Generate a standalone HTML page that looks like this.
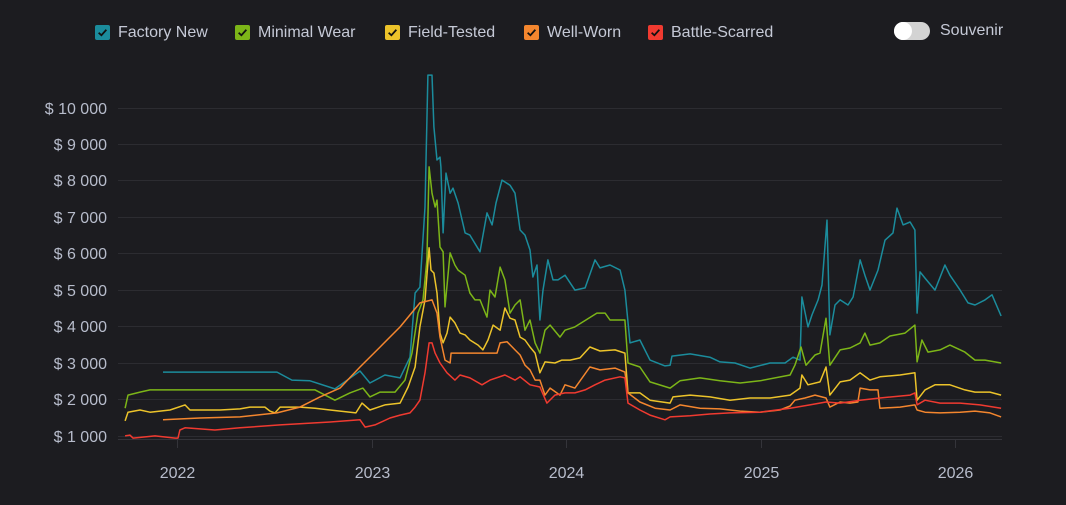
<!DOCTYPE html>
<html><head><meta charset="utf-8">
<style>
html,body{margin:0;padding:0;background:#1c1c20;width:1066px;height:505px;overflow:hidden;font-family:"Liberation Sans",Arial,sans-serif;}
#legend{position:absolute;left:0;top:0;width:1066px;height:60px;}
.lg{position:absolute;top:23px;height:19px;display:flex;align-items:center;color:#c5c9d6;font-size:16px;cursor:pointer;}
.cb{width:15px;height:15px;border-radius:2px;margin-right:8px;display:flex;align-items:center;justify-content:center;}
.cb svg{width:11px;height:11px}
#toggle{position:absolute;left:894px;top:22px;width:36px;height:18px;border-radius:9px;background:#d3d3d3;cursor:pointer;}
#toggle .knob{position:absolute;left:0;top:0;width:18px;height:18px;border-radius:9px;background:#fff;}
#souv{position:absolute;left:940px;top:22px;color:#c5c9d6;font-size:16px;}
svg#chart{position:absolute;left:0;top:0;}
</style></head>
<body>
<div id="legend">
  <div class="lg" style="left:95px"><div class="cb" style="background:#1b8c9c"><svg viewBox="0 0 10 10"><path d="M1.5 5.2 L4 7.5 L8.5 2.5" stroke="#111" stroke-width="1.6" fill="none"/></svg></div>Factory New</div>
  <div class="lg" style="left:235px"><div class="cb" style="background:#7cb518"><svg viewBox="0 0 10 10"><path d="M1.5 5.2 L4 7.5 L8.5 2.5" stroke="#111" stroke-width="1.6" fill="none"/></svg></div>Minimal Wear</div>
  <div class="lg" style="left:385px"><div class="cb" style="background:#ecc32a"><svg viewBox="0 0 10 10"><path d="M1.5 5.2 L4 7.5 L8.5 2.5" stroke="#111" stroke-width="1.6" fill="none"/></svg></div>Field-Tested</div>
  <div class="lg" style="left:524px"><div class="cb" style="background:#f4862e"><svg viewBox="0 0 10 10"><path d="M1.5 5.2 L4 7.5 L8.5 2.5" stroke="#111" stroke-width="1.6" fill="none"/></svg></div>Well-Worn</div>
  <div class="lg" style="left:648px"><div class="cb" style="background:#f03a30"><svg viewBox="0 0 10 10"><path d="M1.5 5.2 L4 7.5 L8.5 2.5" stroke="#111" stroke-width="1.6" fill="none"/></svg></div>Battle-Scarred</div>
  <div id="toggle"><div class="knob"></div></div>
  <div id="souv">Souvenir</div>
</div>
<svg id="chart" width="1066" height="505"></svg>
<script>
const yTicks = [1000,2000,3000,4000,5000,6000,7000,8000,9000,10000];
const yTickLabels = ["$ 1 000","$ 2 000","$ 3 000","$ 4 000","$ 5 000","$ 6 000","$ 7 000","$ 8 000","$ 9 000","$ 10 000"];
const xTicks = [2022,2023,2024,2025,2026];
const xTickLabels = ["2022","2023","2024","2025","2026"];
const seriesNames = ["Factory New","Minimal Wear","Field-Tested","Well-Worn","Battle-Scarred"];

const factoryNew = [[2021.928,2740],[2022.514,2740],[2022.591,2520],[2022.684,2500],[2022.812,2280],[2022.941,2770],[2022.992,2440],[2023.069,2660],[2023.147,2580],[2023.198,3150],[2023.224,4910],[2023.249,5070],[2023.275,7270],[2023.290,10890],[2023.311,10890],[2023.321,9470],[2023.337,8560],[2023.352,8640],[2023.357,8370],[2023.368,6560],[2023.383,8200],[2023.404,7650],[2023.419,7790],[2023.445,7380],[2023.481,6560],[2023.506,6500],[2023.558,6040],[2023.594,7110],[2023.620,6780],[2023.640,7380],[2023.671,8010],[2023.712,7870],[2023.738,7650],[2023.764,6640],[2023.789,6500],[2023.815,6090],[2023.830,5350],[2023.851,5680],[2023.866,4170],[2023.882,4990],[2023.907,5820],[2023.933,5270],[2023.959,5270],[2023.995,5400],[2024.046,4990],[2024.098,5050],[2024.149,5820],[2024.175,5600],[2024.226,5680],[2024.278,5540],[2024.303,4990],[2024.329,3540],[2024.380,3620],[2024.432,3070],[2024.509,2910],[2024.535,2930],[2024.545,3180],[2024.638,3240],[2024.740,3150],[2024.792,3020],[2024.869,2990],[2024.946,2850],[2025.049,2990],[2025.126,2990],[2025.167,3150],[2025.203,3070],[2025.213,4800],[2025.244,3980],[2025.265,4310],[2025.296,4720],[2025.316,5130],[2025.342,6910],[2025.357,3760],[2025.383,4580],[2025.409,4720],[2025.450,4580],[2025.476,4800],[2025.512,5820],[2025.537,5400],[2025.563,4990],[2025.604,5540],[2025.640,6360],[2025.681,6560],[2025.702,7240],[2025.733,6780],[2025.769,6860],[2025.794,6640],[2025.805,4360],[2025.820,5490],[2025.846,5320],[2025.897,4990],[2025.948,5680],[2025.974,5400],[2026.026,4990],[2026.067,4640],[2026.103,4580],[2026.154,4720],[2026.190,4860],[2026.237,4280]];

const minimalWear = [[2021.733,1750],[2021.748,2110],[2021.810,2190],[2021.861,2250],[2021.928,2250],[2022.710,2250],[2022.812,1970],[2022.889,2170],[2022.956,2300],[2022.992,2060],[2023.044,2190],[2023.121,2190],[2023.172,2520],[2023.208,3260],[2023.239,4360],[2023.265,4720],[2023.285,5820],[2023.296,8370],[2023.311,7650],[2023.327,7270],[2023.337,7460],[2023.352,6170],[2023.368,6040],[2023.378,4530],[2023.404,6010],[2023.429,5680],[2023.445,5540],[2023.481,5400],[2023.506,4910],[2023.532,4720],[2023.558,4720],[2023.594,4250],[2023.609,4990],[2023.635,4800],[2023.661,5620],[2023.686,5270],[2023.712,4360],[2023.738,4580],[2023.764,4720],[2023.789,3890],[2023.815,4170],[2023.841,3540],[2023.866,3260],[2023.892,3890],[2023.918,4030],[2023.969,3700],[2023.995,3890],[2024.046,3980],[2024.159,4360],[2024.201,4360],[2024.226,4170],[2024.288,4170],[2024.303,4170],[2024.319,2990],[2024.380,2880],[2024.432,2470],[2024.535,2300],[2024.586,2500],[2024.689,2580],[2024.792,2500],[2024.895,2440],[2024.997,2500],[2025.152,2660],[2025.177,2930],[2025.208,3430],[2025.234,2930],[2025.280,3210],[2025.306,3260],[2025.337,4220],[2025.357,2930],[2025.409,3350],[2025.460,3400],[2025.512,3540],[2025.537,3810],[2025.563,3480],[2025.614,3540],[2025.666,3730],[2025.743,3810],[2025.794,4030],[2025.805,3020],[2025.830,3620],[2025.861,3290],[2025.923,3350],[2025.974,3480],[2026.051,3290],[2026.103,3070],[2026.154,3070],[2026.237,2990]];

const fieldTested = [[2021.733,1400],[2021.748,1640],[2021.810,1700],[2021.861,1640],[2021.964,1700],[2022.041,1840],[2022.067,1700],[2022.221,1700],[2022.324,1730],[2022.375,1780],[2022.452,1780],[2022.478,1670],[2022.504,1620],[2022.530,1780],[2022.632,1780],[2022.710,1750],[2022.787,1700],[2022.920,1620],[2022.951,1890],[2022.992,1700],[2023.069,1840],[2023.147,1890],[2023.188,2330],[2023.224,2880],[2023.249,3980],[2023.275,4720],[2023.296,6150],[2023.306,5540],[2023.321,5460],[2023.337,4910],[2023.352,3810],[2023.368,3540],[2023.388,3810],[2023.404,4250],[2023.429,4090],[2023.455,3810],[2023.481,3760],[2023.506,3620],[2023.548,3480],[2023.573,3350],[2023.599,3620],[2023.625,4030],[2023.661,3890],[2023.686,4500],[2023.712,4220],[2023.738,4170],[2023.764,3700],[2023.789,3620],[2023.815,3430],[2023.841,3260],[2023.866,2720],[2023.892,3020],[2023.943,2990],[2023.979,3070],[2024.021,3070],[2024.072,3130],[2024.123,3430],[2024.175,3320],[2024.252,3350],[2024.303,3260],[2024.319,2170],[2024.380,2170],[2024.432,1970],[2024.535,1890],[2024.550,2060],[2024.638,2110],[2024.740,2060],[2024.843,1970],[2024.946,2030],[2025.049,2030],[2025.152,2110],[2025.203,2300],[2025.213,2660],[2025.244,2390],[2025.306,2470],[2025.337,2880],[2025.357,2110],[2025.409,2470],[2025.460,2520],[2025.512,2720],[2025.563,2520],[2025.614,2610],[2025.717,2660],[2025.794,2720],[2025.805,1970],[2025.846,2250],[2025.897,2390],[2025.974,2390],[2026.051,2250],[2026.103,2190],[2026.180,2190],[2026.237,2110]];

const wellWorn = [[2021.928,1430],[2022.118,1480],[2022.324,1510],[2022.514,1620],[2022.632,1780],[2022.735,2060],[2022.838,2300],[2022.941,2880],[2023.044,3430],[2023.147,3980],[2023.249,4640],[2023.311,4720],[2023.337,4360],[2023.352,3700],[2023.378,3070],[2023.404,2990],[2023.409,3260],[2023.645,3260],[2023.661,3540],[2023.697,3570],[2023.738,3350],[2023.764,3210],[2023.789,2930],[2023.815,2800],[2023.841,2520],[2023.866,2520],[2023.892,2110],[2023.918,2300],[2023.969,2110],[2023.995,2390],[2024.046,2300],[2024.123,2880],[2024.175,2800],[2024.252,2850],[2024.303,2740],[2024.319,2170],[2024.380,1920],[2024.458,1750],[2024.535,1700],[2024.586,1840],[2024.689,1750],[2024.792,1730],[2024.895,1670],[2024.997,1640],[2025.100,1700],[2025.152,1810],[2025.177,1970],[2025.229,2030],[2025.280,2110],[2025.337,2030],[2025.357,1780],[2025.409,1920],[2025.460,1890],[2025.501,1920],[2025.512,2300],[2025.563,2250],[2025.604,2250],[2025.614,1750],[2025.717,1780],[2025.794,1840],[2025.805,1700],[2025.846,1640],[2025.923,1620],[2026.026,1640],[2026.103,1670],[2026.180,1620],[2026.237,1510]];

const battleScarred = [[2021.733,990],[2021.758,1010],[2021.774,930],[2021.887,990],[2021.990,930],[2022.005,930],[2022.015,1150],[2022.041,1210],[2022.195,1150],[2022.324,1210],[2022.530,1290],[2022.787,1370],[2022.941,1430],[2022.967,1230],[2023.018,1290],[2023.095,1480],[2023.147,1560],[2023.198,1620],[2023.224,1780],[2023.249,1970],[2023.275,2720],[2023.296,3540],[2023.311,3540],[2023.327,3260],[2023.352,2990],[2023.388,2720],[2023.429,2520],[2023.455,2660],[2023.506,2580],[2023.568,2390],[2023.609,2520],[2023.686,2660],[2023.738,2520],[2023.764,2610],[2023.815,2390],[2023.866,2330],[2023.902,1890],[2023.943,2110],[2023.995,2170],[2024.046,2170],[2024.098,2250],[2024.149,2390],[2024.201,2520],[2024.278,2610],[2024.303,2580],[2024.319,1890],[2024.380,1700],[2024.432,1560],[2024.509,1430],[2024.535,1510],[2024.638,1540],[2024.740,1590],[2024.843,1620],[2024.997,1640],[2025.152,1750],[2025.254,1840],[2025.337,1920],[2025.409,1890],[2025.512,1970],[2025.614,2030],[2025.769,2110],[2025.794,2170],[2025.805,1840],[2025.846,1970],[2025.923,1890],[2026.026,1890],[2026.128,1840],[2026.237,1750]];

const seriesData = [factoryNew, minimalWear, fieldTested, wellWorn, battleScarred];
const seriesColors = ["#1b8c9c","#7cb518","#ecc32a","#f4862e","#f03a30"];
const seriesKeys = ["factory-new","minimal-wear","field-tested","well-worn","battle-scarred"];

const NS = "http://www.w3.org/2000/svg";
const svg = document.getElementById('chart');
const X0 = 2022, PX0 = 177, PXY = 194.5;
function xScale(t){ return PX0 + (t - X0) * PXY; }
const Y0 = 1000, PY0 = 435.5, PYV = 0.03644;
function yScale(v){ return PY0 - (v - Y0) * PYV; }

function mk(tag, attrs){ const e = document.createElementNS(NS, tag); for (const k in attrs) e.setAttribute(k, attrs[k]); return e; }

const gGrid = mk('g', {});


svg.appendChild(gGrid);
yTicks.forEach((v, i) => {
  const y = Math.round(yScale(v)) + 0.5;
  const ln = mk('line', {x1:118, x2:1002, y1:y, y2:y, stroke:'#2c2c31', 'stroke-width':1});
  
  
  gGrid.appendChild(ln);
  const t = mk('text', {x:107, y:y+5.5, 'text-anchor':'end', fill:'#b7bccb', 'font-size':16, 'font-family':'Liberation Sans, Arial, sans-serif'});
  t.textContent = yTickLabels[i];
  
  
  svg.appendChild(t);
});
const axis = mk('line', {x1:118, x2:1002, y1:439.5, y2:439.5, stroke:'#34343a', 'stroke-width':1});


svg.appendChild(axis);
xTicks.forEach((t, i) => {
  const x = Math.round(xScale(t)) + 0.5;
  const tk = mk('line', {x1:x, x2:x, y1:439, y2:448, stroke:'#34343a', 'stroke-width':1});
  
  
  svg.appendChild(tk);
  const tx = mk('text', {x:x, y:478, 'text-anchor':'middle', fill:'#b7bccb', 'font-size':16, 'font-family':'Liberation Sans, Arial, sans-serif'});
  tx.textContent = xTickLabels[i];
  
  
  svg.appendChild(tx);
});
seriesData.forEach((data, i) => {
  const d = data.map((p, j) => (j ? 'L' : 'M') + xScale(p[0]).toFixed(1) + ' ' + yScale(p[1]).toFixed(1)).join(' ');
  const path = mk('path', {d:d, fill:'none', stroke:seriesColors[i], 'stroke-width':1.5, 'stroke-linejoin':'round'});
  
  
  svg.appendChild(path);
});
</script>
</body></html>
